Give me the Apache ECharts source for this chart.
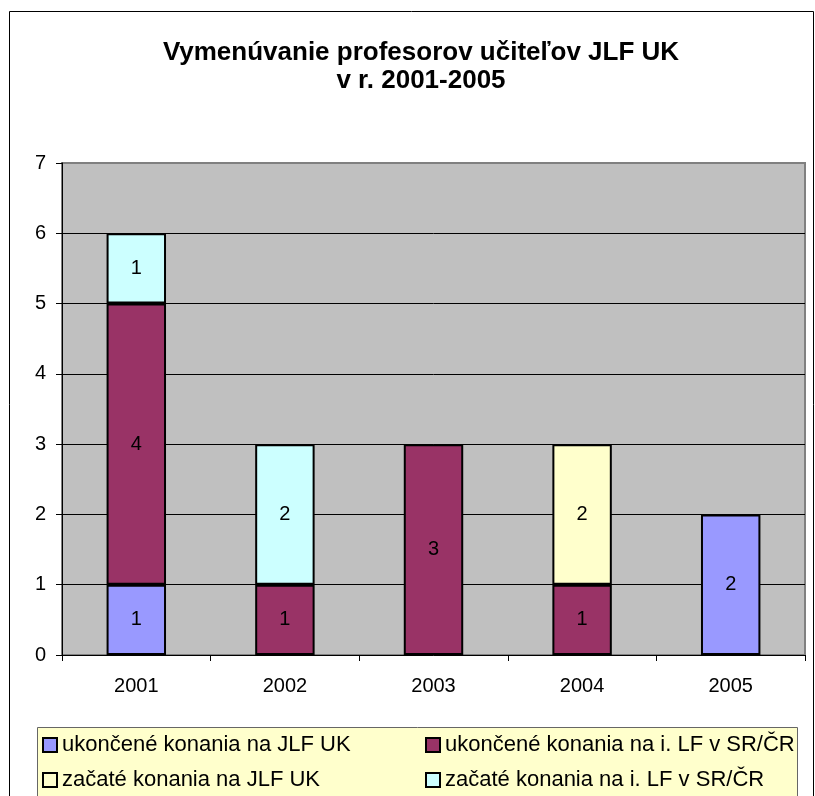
<!DOCTYPE html>
<html>
<head>
<meta charset="utf-8">
<script src="https://cdn.jsdelivr.net/npm/echarts@6/dist/echarts.min.js"></script>
<style>
  html, body { margin: 0; padding: 0; background: #fff; }
  #chart { width: 815px; height: 796px; }
</style>
</head>
<body>
<div id="chart"></div>
<script>
// roky a hodnoty (null = bez stĺpca)
var years = ['2001', '2002', '2003', '2004', '2005'];
var seriesNames = [
    'ukončené konania na JLF UK',
    'ukončené konania na i. LF v SR/ČR',
    'začaté konania na JLF UK',
    'začaté konania na i. LF v SR/ČR'
];
var ukonceneJLF = [1, null, null, null, 2];
var ukonceneILF = [4, 1, 3, 1, null];
var zacateJLF   = [null, null, null, 2, null];
var zacateILF   = [1, 2, null, null, null];
var colors = ['#9999FF', '#993366', '#FFFFCC', '#CCFFFF'];
var yTicks = [0, 1, 2, 3, 4, 5, 6, 7];

var font = 'Liberation Sans, Arial, sans-serif';
var chart = echarts.init(document.getElementById('chart'));

var values = [ukonceneJLF, ukonceneILF, zacateJLF, zacateILF];
var series = values.map(function (d, i) {
    return {
        name: seriesNames[i],
        type: 'bar',
        stack: 'spolu',
        barWidth: '40%',
        data: d,
        itemStyle: { color: colors[i], borderColor: '#000', borderWidth: 2 },
        label: {
            show: true,
            position: 'inside',
            color: '#000',
            fontFamily: font,
            fontSize: 20
        }
    };
});

var legendText = { fontFamily: font, fontSize: 22, color: '#000', lineHeight: 22 };

var option = {
    animation: false,
    backgroundColor: '#fff',
    title: {
        text: 'Vymenúvanie profesorov učiteľov JLF UK\nv r. 2001-2005',
        left: 421,
        top: 39,
        padding: 0,
        textAlign: 'center',
        textStyle: { fontFamily: font, fontSize: 26, fontWeight: 'bold', color: '#000', lineHeight: 28 }
    },
    graphic: [
        {   // rám celého grafu
            type: 'rect', z: -10,
            shape: { x: 9.5, y: 11.5, width: 804, height: 800 },
            style: { fill: 'none', stroke: '#000', lineWidth: 1 }
        },
        {   // pozadie legendy
            type: 'rect', z: -5,
            shape: { x: 37.5, y: 727.5, width: 760, height: 80 },
            style: { fill: '#FFFFCC', stroke: '#666', lineWidth: 1 }
        }
    ],
    legend: [
        {
            orient: 'vertical', left: 42, top: 734, padding: 0,
            data: [seriesNames[0], seriesNames[2]],
            icon: 'rect', itemWidth: 14, itemHeight: 14, itemGap: 13,
            textStyle: legendText
        },
        {
            orient: 'vertical', left: 425, top: 734, padding: 0,
            data: [seriesNames[1], seriesNames[3]],
            icon: 'rect', itemWidth: 14, itemHeight: 14, itemGap: 13,
            textStyle: legendText
        }
    ],
    grid: {
        left: 62, right: 10, top: 163, bottom: 141,
        show: true, backgroundColor: '#C0C0C0', borderColor: '#808080', borderWidth: 2
    },
    xAxis: {
        type: 'category',
        data: years,
        axisLine: { lineStyle: { color: '#000', width: 1 } },
        axisTick: { show: true, length: 6, lineStyle: { color: '#000' } },
        axisLabel: { color: '#000', fontFamily: font, fontSize: 20, margin: 21 }
    },
    yAxis: {
        type: 'value',
        min: yTicks[0], max: yTicks[yTicks.length - 1], interval: 1,
        axisLine: { show: true, lineStyle: { color: '#000', width: 1 } },
        axisTick: { show: true, length: 6, lineStyle: { color: '#000' } },
        axisLabel: { color: '#000', fontFamily: font, fontSize: 20, margin: 16 },
        splitLine: { show: true, showMinLine: false, showMaxLine: false, lineStyle: { color: '#000', width: 1 } }
    },
    series: series
};

chart.setOption(option);
</script>
</body>
</html>
